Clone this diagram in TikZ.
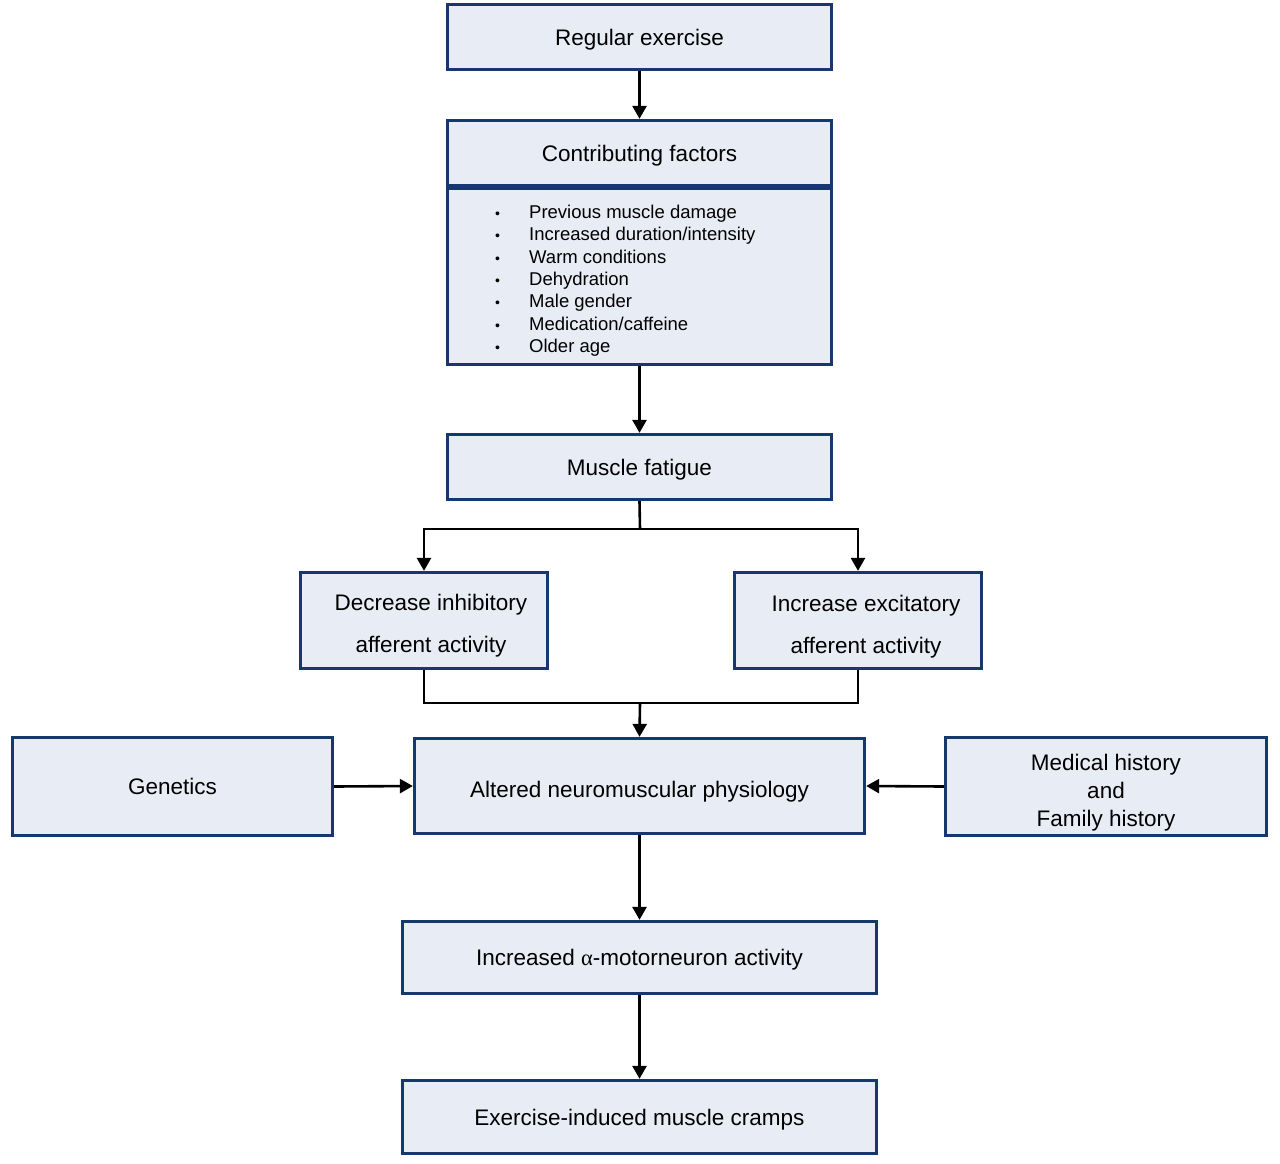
\documentclass[tikz,border=0pt]{standalone}
\usepackage{fontspec}
\setmainfont{Liberation Sans}
\newfontfamily\greekserif{Liberation Serif}
\usetikzlibrary{arrows.meta}
\definecolor{boxfill}{HTML}{E8EDF5}
\definecolor{boxline}{HTML}{17386E}
\begin{document}
\begin{tikzpicture}[x=1pt,y=-1pt,
  box/.style={draw=boxline,fill=boxfill,line width=3.3pt,rectangle,inner sep=0pt,
    font=\fontsize{22.5}{26}\selectfont,align=center,text height=16pt,text depth=0pt},
  lbl/.style={align=center,inner sep=0pt},
  conn/.style={line width=2.6pt,draw=black},
  arr/.style={conn,-{Triangle[width=14pt,length=13pt]}},
  bul/.style={font=\fontsize{18.5}{22.3}\selectfont,align=left,inner sep=0pt}
]
\useasboundingbox (0,0) rectangle (1280,1163);
\fill[white] (0,0) rectangle (1280,1163);

% boxes
\node[box,minimum width=384pt,minimum height=65pt] (reg) at (639.5,37) {Regular exercise};
\node[box,minimum width=384pt,minimum height=65pt] (cft) at (639.5,153) {Contributing factors};
\node[box,minimum width=384pt,minimum height=176pt] (cfl) at (639.5,276.5) {};
\node[bul,anchor=west] (cfltext) at (495,281) {%
\begin{tabular}{@{}p{34pt}@{}l@{}}
{\fontsize{14}{14}\selectfont\textbullet} & Previous muscle damage\\
{\fontsize{14}{14}\selectfont\textbullet} & Increased duration/intensity\\
{\fontsize{14}{14}\selectfont\textbullet} & Warm conditions\\
{\fontsize{14}{14}\selectfont\textbullet} & Dehydration\\
{\fontsize{14}{14}\selectfont\textbullet} & Male gender\\
{\fontsize{14}{14}\selectfont\textbullet} & Medication/caffeine\\
{\fontsize{14}{14}\selectfont\textbullet} & Older age
\end{tabular}};
\node[box,minimum width=384pt,minimum height=65pt] (fat) at (639.5,467) {Muscle fatigue};

\node[box,minimum width=247pt,minimum height=96pt] (dec) at (424,620.5) {};
\node[lbl,font=\fontsize{22.5}{42}\selectfont] (dect) at (431,626) {Decrease inhibitory\\afferent activity};
\node[box,minimum width=247pt,minimum height=96pt] (inc) at (858,620.5) {};
\node[lbl,font=\fontsize{22.5}{42}\selectfont] (inct) at (866,627) {Increase excitatory\\afferent activity};

\node[box,minimum width=320pt,minimum height=98pt] (gen) at (172.5,786.5) {Genetics};
\node[box,minimum width=450pt,minimum height=95pt,text height=22pt] (alt) at (639.5,786) {Altered neuromuscular physiology};
\node[box,minimum width=321pt,minimum height=98pt] (med) at (1106,786.5) {};
\node[lbl,font=\fontsize{22.5}{28}\selectfont] (medt) at (1106,792.5) {Medical history\\and\\Family history};

\node[box,minimum width=474pt,minimum height=72pt] (amn) at (639.5,957.5) {Increased {\greekserif α}-motorneuron activity};
\node[box,minimum width=474pt,minimum height=73pt] (cra) at (639.5,1117) {Exercise-induced muscle cramps};

% connectors
\draw[arr] (reg.south) -- (cft.north);
\draw[arr] (cfl.south) -- (fat.north);
\coordinate (split) at (640,529);
\draw[conn] (fat.south) -- (split);
\draw[arr] (split) -| (dec.north);
\draw[arr] (split) -| (inc.north);
\coordinate (join) at (640,703);
\draw[conn] (dec.south) |- (join);
\draw[conn] (inc.south) |- (join);
\draw[arr] (join) -- (alt.north);
\draw[arr] (gen.east) -- (alt.west);
\draw[arr] (med.west) -- (alt.east);
\draw[arr] (alt.south) -- (amn.north);
\draw[arr] (amn.south) -- (cra.north);
\end{tikzpicture}
\end{document}
